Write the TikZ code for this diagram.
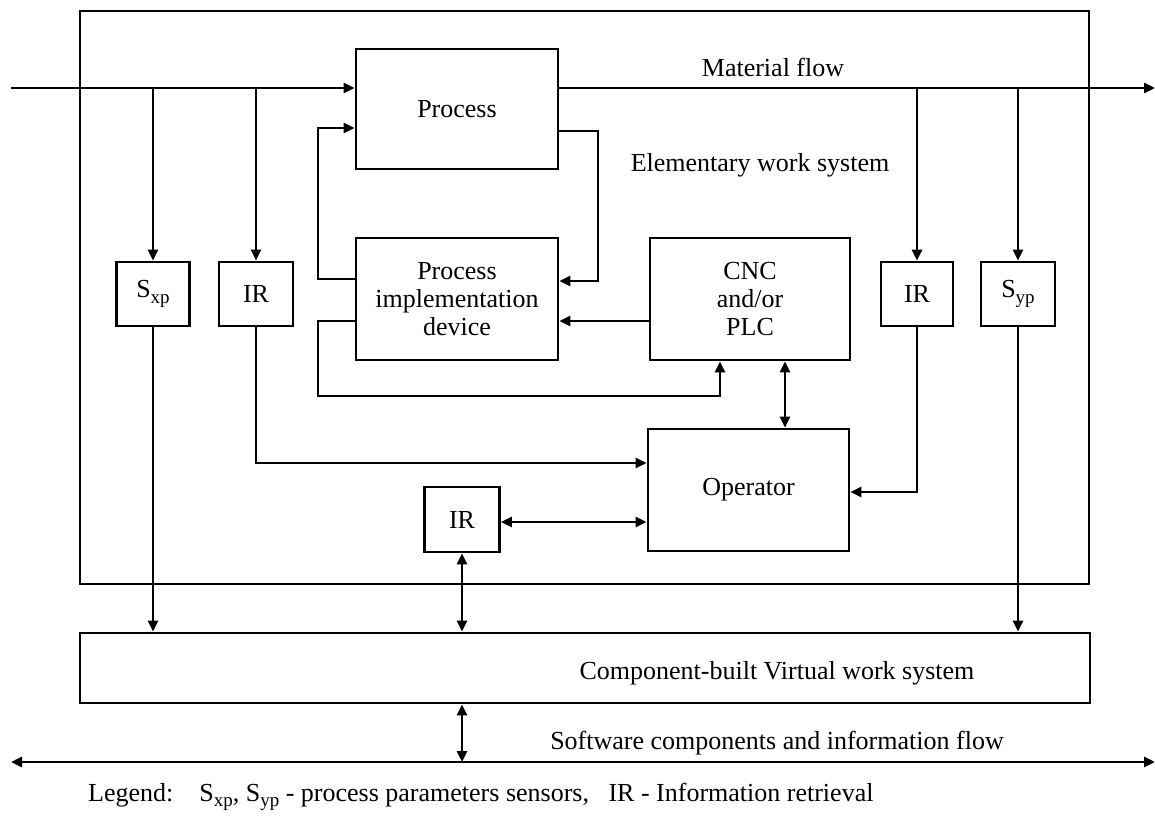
\documentclass[tikz,border=0pt]{standalone}
\usepackage{fontspec}
\setmainfont{Liberation Serif}
\usetikzlibrary{arrows.meta}
\newcommand\lowsub[1]{\raisebox{-0.45ex}{\fontsize{19}{19}\selectfont #1}}
\tikzset{
  every node/.style={font=\fontsize{26}{28}\selectfont},
  blk/.style={draw, line width=2.8pt, inner sep=0pt, align=center},
  wire/.style={line width=2.8pt},
  arr/.style={wire, -{Triangle[length=11pt,width=10pt]}},
  darr/.style={wire, {Triangle[length=11pt,width=10pt]}-{Triangle[length=11pt,width=10pt]}}
}
\begin{document}
\begin{tikzpicture}[x=1pt, y=-1pt]
\useasboundingbox (0,0) rectangle (1155,816);

% frames
\node[blk, minimum width=1009pt, minimum height=573pt] (ews) at (584.5,297.5) {};
\node[blk, minimum width=1010pt, minimum height=70pt] (vws) at (585,668) {};

% blocks
\node[blk, minimum width=202pt, minimum height=120pt] (proc) at (457,109) {Process};
\node[blk, minimum width=202pt, minimum height=122pt] (pid) at (457,299) {Process\\implementation\\device};
\node[blk, minimum width=200pt, minimum height=122pt] (cnc) at (750,299) {CNC\\and/or\\PLC};
\node[blk, minimum width=201pt, minimum height=122pt] (op) at (748.5,490) {Operator};
\node[blk, minimum width=73pt, minimum height=64pt] (sxp) at (153,294) {S\lowsub{xp}};
\node[blk, minimum width=74pt, minimum height=64pt] (irl) at (256,294) {IR};
\node[blk, minimum width=72pt, minimum height=64pt] (irr) at (917,294) {IR};
\node[blk, minimum width=74pt, minimum height=64pt] (syp) at (1018,294) {S\lowsub{yp}};
\node[blk, minimum width=75pt, minimum height=65pt] (irb) at (462,519.5) {IR};

% labels
\node (mflab) at (773,67) {Material flow};
\node (ewslab) at (760,165) {Elementary work system};
\node (vwslab) at (777,673) {Component-built Virtual work system};
\node (swlab) at (777,743) {Software components and information flow};
\node[anchor=west, inner sep=0pt] (legend) at (88,797)
  {Legend:\ \ \ \ S\lowsub{xp}, S\lowsub{yp} - process parameters sensors,\ \ \ IR - Information retrieval};

% material flow
\coordinate (mfin) at (11,88);
\coordinate (mfout) at (1155,88);
\draw[arr] (mfin) -- (proc.west |- mfin);
\draw[arr] (proc.east |- mfin) -- (mfout);
\draw[arr] (sxp.north |- mfin) -- (sxp.north);
\draw[arr] (irl.north |- mfin) -- (irl.north);
\draw[arr] (irr.north |- mfin) -- (irr.north);
\draw[arr] (syp.north |- mfin) -- (syp.north);

% loops between process, device and controller
\draw[arr] (proc.east |- 0,131) -| (598,281) -- (pid.east |- 0,281);
\draw[arr] (pid.west |- 0,279) -| (318,128) -- (proc.west |- 0,128);
\draw[arr] (cnc.west |- 0,321) -- (pid.east |- 0,321);
\draw[arr] (pid.west |- 0,321) -| (318,396) -| (cnc.south -| 720,0);
\draw[darr] (cnc.south -| 785,0) -- (op.north -| 785,0);

% information retrieval to operator
\draw[arr] (irl.south) |- (op.west |- 0,463);
\draw[arr] (irr.south) |- (op.east |- 0,492);
\draw[darr] (irb.east |- 0,522) -- (op.west |- 0,522);

% links to the virtual work system
\draw[arr] (sxp.south) -- (vws.north -| sxp.south);
\draw[arr] (syp.south) -- (vws.north -| syp.south);
\draw[darr] (irb.south) -- (vws.north -| irb.south);

% software components and information flow
\coordinate (swl) at (11,762);
\coordinate (swr) at (1155,762);
\draw[darr] (swl) -- (swr);
\draw[darr] (vws.south -| irb.south) -- (swl -| irb.south);
\end{tikzpicture}
\end{document}
